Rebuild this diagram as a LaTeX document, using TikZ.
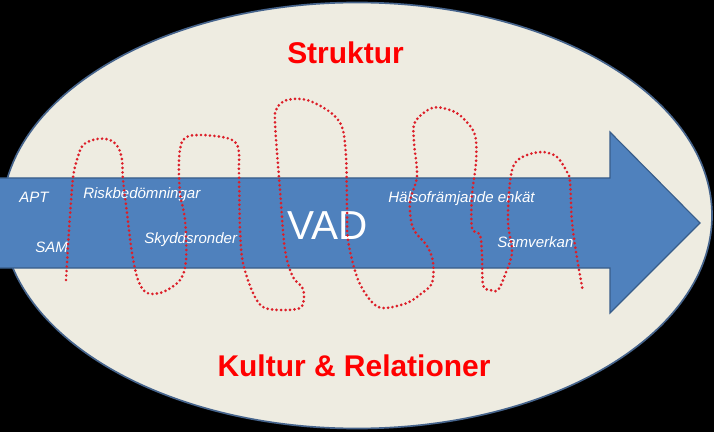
\documentclass[tikz,border=0pt]{standalone}
\usepackage{fontspec}
\setmainfont{Liberation Sans}
\usepackage{tikz}
\usetikzlibrary{positioning}
\usepackage{xcolor}
\definecolor{paper}{HTML}{EEECE1}
\definecolor{arrowblue}{HTML}{4F81BD}
\definecolor{arrowedge}{HTML}{385D8A}
\definecolor{rimblue}{HTML}{46648C}
\definecolor{loopred}{HTML}{DC1E28}

\begin{document}
\begin{tikzpicture}[x=0.025cm,y=-0.025cm,
  heading/.style={text=red,inner sep=0pt,anchor=base,font=\fontsize{21.3}{24}\selectfont\bfseries},
  item/.style={text=white,inner sep=0pt,anchor=base west,font=\fontsize{10.7}{12}\selectfont\itshape},
  loopline/.style={loopred,line width=2.1pt,line cap=round,dash pattern=on 0pt off 3.2pt}]
\fill[black] (0,0) rectangle (714,432);
\useasboundingbox (0,0) rectangle (714,432);
\draw[rimblue,line width=1.2pt,fill=paper] (357,215.5) ellipse [x radius=355,y radius=213];
\draw[arrowedge,line width=0.8pt,fill=arrowblue] (-3,178) -- (610,178) -- (610,132) -- (700,223) -- (610,313) -- (610,268) -- (-3,268) -- cycle;
\node[heading] (struktur) at (345.5,64) {Struktur};
\node[heading] (kultur) at (354,376) {Kultur \& Relationer};
\node[text=white,inner sep=0pt,anchor=base west,font=\fontsize{28.8}{32}\selectfont] (vad) at (287,239) {VAD};
\node[item] (apt) at (19,203) {APT};
\node[item] (sam) at (35,252) {SAM};
\node[item] (risk) at (83,198) {Riskbedömningar};
\node[item] (skydd) at (144,243) {Skyddsronder};
\node[item] (halsa) at (388,203) {Hälsofrämjande enkät};
\node[item] (samverkan) at (497,247) {Samverkan};
\draw[loopline] plot[smooth,tension=0.55] coordinates {
  (66,280) (67,263) (69,230) (73,178) (77,160) (83,145) (97,139) (110,140) (118,147) (122,160)
  (123,180) (127,213) (132,253) (138,280) (147,293) (163,292) (180,280) (186,260) (185,220) (180,193)
  (179,160) (183,140) (197,135) (227,138) (238,147) (239,173) (240,230) (243,263) (253,293) (263,307)
  (280,310) (300,308) (304,297) (302,287) (293,277) (285,250) (280,190) (275,123) (277,108) (287,100)
  (307,100) (330,112) (342,127) (346,157) (347,207) (348,240) (357,277) (370,300) (383,308) (407,303)
  (422,293) (432,283) (433,262) (427,246) (413,228) (410,202) (417,176) (414,142) (415,122) (432,108)
  (450,110) (463,118) (475,135) (476,162) (472,195) (472,228) (480,235) (482,255) (483,285) (490,290)
  (498,290) (505,275) (512,252) (508,222) (510,182) (515,163) (527,155) (543,152) (557,157) (567,172)
  (570,182) (572,222) (577,258) (583,292)};
\end{tikzpicture}
\end{document}
